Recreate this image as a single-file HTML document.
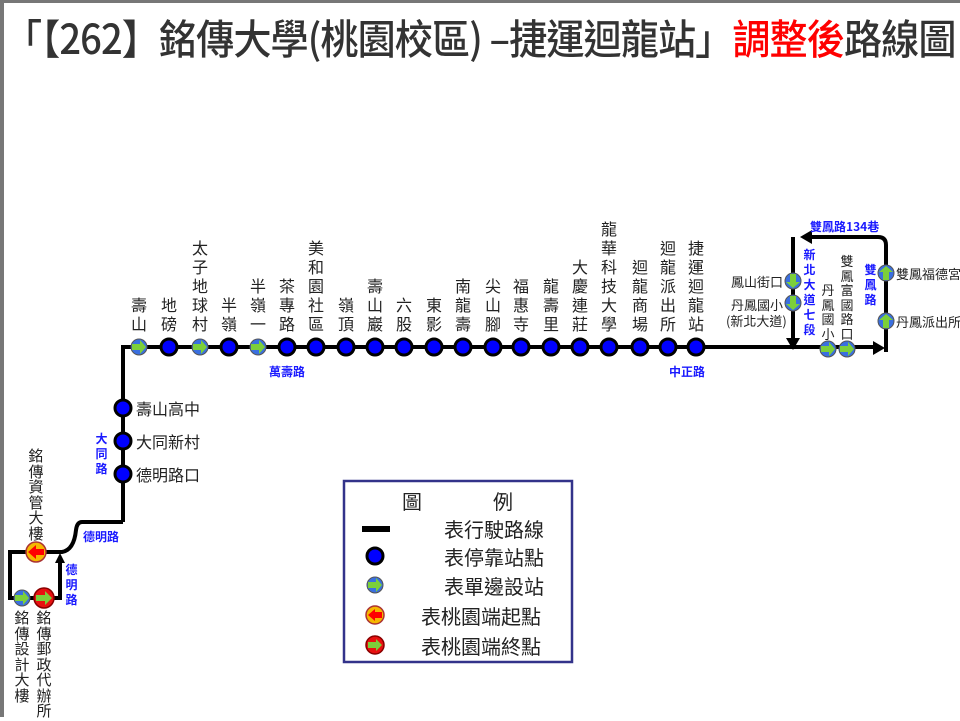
<!DOCTYPE html>
<html><head><meta charset="utf-8"><style>
body{margin:0;width:960px;height:717px;overflow:hidden;background:#fff;font-family:"Liberation Sans","Noto Sans CJK TC",sans-serif;position:relative;}
#f{position:absolute;left:0;top:0;width:960px;height:717px;box-sizing:border-box;border-left:4px solid #777;border-top:3px solid #777;}
.t{position:absolute;left:4px;top:6px;font-size:41px;color:#333;white-space:nowrap;letter-spacing:-1px;font-family:"Noto Sans CJK TC",sans-serif;line-height:60px;transform:scaleX(0.93);transform-origin:0 0;font-weight:500;}
.v{position:absolute;width:18px;font-size:16px;line-height:19px;text-align:center;color:#222;font-family:"Noto Sans CJK TC",sans-serif;word-break:break-all;}
.s{position:absolute;font-size:13px;color:#222;white-space:nowrap;font-family:"Noto Sans CJK TC",sans-serif;line-height:16px;}
.r{position:absolute;font-size:12px;font-weight:bold;color:#1a1aff;white-space:nowrap;font-family:"Noto Sans CJK TC",sans-serif;line-height:15px;}
.rv{width:13px;word-break:break-all;text-align:center;white-space:normal;}
.sv{position:absolute;width:14px;font-size:13px;line-height:14.5px;text-align:center;color:#222;font-family:"Noto Sans CJK TC",sans-serif;word-break:break-all;}
.lv{position:absolute;width:16px;font-size:15px;line-height:15.5px;text-align:center;color:#222;font-family:"Noto Sans CJK TC",sans-serif;word-break:break-all;}
.lg{position:absolute;font-size:20px;color:#222;font-family:"Noto Sans CJK TC",sans-serif;white-space:nowrap;line-height:24px;}
</style></head><body><div id="f"></div>
<div class="t">「【262】銘傳大學(桃園校區) –捷運迴龍站」<span style="color:#f00">調整後</span>路線圖</div>
<svg width="960" height="717" style="position:absolute;left:0;top:0">
<defs>
<g id="sd"><circle r="8" fill="#3a6fe0" stroke="#555" stroke-width="1"/><path d="M-7,-3 L1,-3 L1,-7 L7,0 L1,7 L1,3 L-7,3 Z" fill="#7ccf3a"/></g>
<g id="bs"><circle r="8" fill="#0000ff" stroke="#000" stroke-width="3"/></g>
</defs>
<g fill="none" stroke="#000" stroke-width="4">
<path d="M123,522 L123,347 L880,347"/>
<path d="M886,352 L886,245 Q886,237 878,237 L808,237"/>
<path d="M793,237 L793,340"/>
<path d="M123,522 L82,522 Q77,522 76,530 Q74,550 62,552 L10,552 L10,598 L60,598 L60,562"/>
</g>
<path d="M800,237 L812,230 L812,244 Z" fill="#000"/>
<path d="M793,350 L786,338 L800,338 Z" fill="#000"/>
<path d="M887,350 L875,343 L875,357 Z" fill="#000" transform="translate(-2,-2)"/>
<path d="M60,553 L55,563 L65,563 Z" fill="#000"/>
<use href="#sd" x="139" y="347"/>
<use href="#bs" x="169" y="347"/>
<use href="#sd" x="200" y="347"/>
<use href="#bs" x="229" y="347"/>
<use href="#sd" x="258" y="347"/>
<use href="#bs" x="287" y="347"/><use href="#bs" x="316" y="347"/><use href="#bs" x="346" y="347"/><use href="#bs" x="375" y="347"/><use href="#bs" x="404" y="347"/><use href="#bs" x="434" y="347"/><use href="#bs" x="463" y="347"/><use href="#bs" x="493" y="347"/><use href="#bs" x="521" y="347"/><use href="#bs" x="551" y="347"/><use href="#bs" x="580" y="347"/><use href="#bs" x="609" y="347"/><use href="#bs" x="640" y="347"/><use href="#bs" x="668" y="347"/><use href="#bs" x="696" y="347"/>
<use href="#bs" x="123" y="408"/><use href="#bs" x="123" y="441"/><use href="#bs" x="123" y="474"/>
<use href="#sd" transform="translate(828,349)"/><use href="#sd" transform="translate(847,349)"/>
<use href="#sd" transform="translate(793,281) rotate(90)"/><use href="#sd" transform="translate(793,303) rotate(90)"/>
<use href="#sd" transform="translate(886,273) rotate(-90)"/><use href="#sd" transform="translate(886,321) rotate(-90)"/>
<use href="#sd" x="22" y="598"/>
<g transform="translate(36,552)"><circle r="10" fill="#f5b800" stroke="#a33" stroke-width="1.5"/><path d="M8,-3 L0,-3 L0,-7 L-8,0 L0,7 L0,3 L8,3 Z" fill="#f00"/></g>
<g transform="translate(44,598)"><circle r="10" fill="#e81010" stroke="#800" stroke-width="1.5"/><path d="M-8,-3 L1,-3 L1,-7 L8,0 L1,7 L1,3 L-8,3 Z" fill="#7ccf3a"/></g>
<rect x="344" y="481" width="228" height="181" fill="none" stroke="#33338a" stroke-width="2.5"/>
<rect x="362" y="526" width="28" height="6" fill="#000"/>
<use href="#bs" x="375" y="556"/>
<use href="#sd" x="375" y="585"/>
<g transform="translate(375,615)"><circle r="9" fill="#f5b800" stroke="#a33" stroke-width="1.5"/><path d="M7,-3 L0,-3 L0,-6 L-7,0 L0,6 L0,3 L7,3 Z" fill="#f00"/></g>
<g transform="translate(375,645)"><circle r="9" fill="#e81010" stroke="#800" stroke-width="1.5"/><path d="M-7,-3 L1,-3 L1,-6 L7,0 L1,6 L1,3 L-7,3 Z" fill="#7ccf3a"/></g>
</svg>
<div class="v" style="left:130px;top:295px">壽山</div>
<div class="v" style="left:160px;top:295px">地磅</div>
<div class="v" style="left:191px;top:238px">太子地球村</div>
<div class="v" style="left:220px;top:295px">半嶺</div>
<div class="v" style="left:249px;top:276px">半嶺一</div>
<div class="v" style="left:278px;top:276px">茶專路</div>
<div class="v" style="left:307px;top:238px">美和園社區</div>
<div class="v" style="left:337px;top:295px">嶺頂</div>
<div class="v" style="left:366px;top:276px">壽山巖</div>
<div class="v" style="left:395px;top:295px">六股</div>
<div class="v" style="left:425px;top:295px">東影</div>
<div class="v" style="left:454px;top:276px">南龍壽</div>
<div class="v" style="left:484px;top:276px">尖山腳</div>
<div class="v" style="left:512px;top:276px">福惠寺</div>
<div class="v" style="left:542px;top:276px">龍壽里</div>
<div class="v" style="left:571px;top:257px">大慶連莊</div>
<div class="v" style="left:600px;top:219px">龍華科技大學</div>
<div class="v" style="left:631px;top:257px">迴龍商場</div>
<div class="v" style="left:659px;top:238px">迴龍派出所</div>
<div class="v" style="left:687px;top:238px">捷運迴龍站</div>
<div class="lg" style="left:136px;top:396px;font-size:16px">壽山高中</div>
<div class="lg" style="left:136px;top:429px;font-size:16px">大同新村</div>
<div class="lg" style="left:136px;top:462px;font-size:16px">德明路口</div>
<div class="lv" style="left:28px;top:448px">銘傳資管大樓</div>
<div class="lv" style="left:14px;top:610px">銘傳設計大樓</div>
<div class="lv" style="left:36px;top:610px">銘傳郵政代辦所</div>
<div class="r" style="left:269px;top:364px">萬壽路</div>
<div class="r" style="left:669px;top:364px">中正路</div>
<div class="r rv" style="left:95px;top:431px">大同路</div>
<div class="r" style="left:83px;top:529px">德明路</div>
<div class="r rv" style="left:65px;top:562px">德明路</div>
<div class="r" style="left:810px;top:219px">雙鳳路134巷</div>
<div class="r rv" style="left:803px;top:247px">新北大道七段</div>
<div class="r rv" style="left:864px;top:262px">雙鳳路</div>
<div class="s" style="left:731px;top:274px">鳳山街口</div>
<div class="s" style="left:731px;top:297px">丹鳳國小</div>
<div class="s" style="left:726px;top:313px">(新北大道)</div>
<div class="s" style="left:896px;top:266px">雙鳳福德宮</div>
<div class="s" style="left:896px;top:314px">丹鳳派出所</div>
<div class="sv" style="left:821px;top:283px">丹鳳國小</div>
<div class="sv" style="left:840px;top:254px">雙鳳富國路口</div>
<div class="lg" style="left:402px;top:489px">圖</div>
<div class="lg" style="left:493px;top:489px">例</div>
<div class="lg" style="left:444px;top:517px">表行駛路線</div>
<div class="lg" style="left:444px;top:545px">表停靠站點</div>
<div class="lg" style="left:444px;top:574px">表單邊設站</div>
<div class="lg" style="left:421px;top:604px">表桃園端起點</div>
<div class="lg" style="left:421px;top:634px">表桃園端終點</div>
</body></html>
